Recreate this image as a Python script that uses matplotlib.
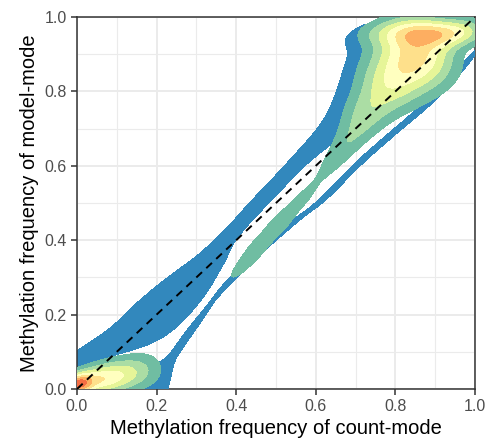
import numpy as np
import matplotlib as mpl

mpl.use('Agg')
import matplotlib.pyplot as plt
from matplotlib.ticker import MultipleLocator

# density bands, low -> high (reversed Spectral)
band_colors = ["#3288BD", "#70BDA2", "#ABDDA4", "#E6F598", "#FFFFBF",
               "#FEE08B", "#FDAE61", "#F46D43", "#D53E4F", "#9E0142"]
band_levels = [1, 2, 3, 4, 5, 6, 7, 8, 9, 10, 1000]

# outer (lowest) band: upper-left streak along the diagonal, its run up the
# left side of the top-right cloud and the strip along the top
outline_x = [0.0, 0.05, 0.10, 0.15, 0.20, 0.25, 0.30, 0.35, 0.40, 0.45, 0.50, 0.55, 0.60,
             0.645, 0.677, 0.70, 0.717, 0.722, 0.79, 0.86, 0.93, 0.99]
outline_y = [0.08, 0.105, 0.13, 0.16, 0.197, 0.247, 0.30, 0.362, 0.432, 0.493, 0.548, 0.606, 0.658,
             0.705, 0.77, 0.84, 0.90, 0.945, 0.975, 0.985, 0.99, 0.995]
outline_wid = [0.014, 0.02, 0.027, 0.04, 0.048, 0.047, 0.04, 0.028, 0.016, 0.016, 0.016, 0.016, 0.019,
               0.025, 0.03, 0.03, 0.027, 0.021, 0.013, 0.012, 0.01, 0.01]
outline_ang = [27, 27, 27, 33, 40, 45, 49, 51, 48, 47, 49, 50, 52,
               60, 68, 75, 80, 10, 3, 3, 3, 3]

# thin lower streak below the diagonal
lower_x = [0.205, 0.12, 0.25, 0.31, 0.384, 0.46, 0.54, 0.63, 0.70, 0.78, 0.862, 0.93, 0.995]
lower_y = [0.03, 0.0, 0.10, 0.19, 0.29, 0.37, 0.445, 0.52, 0.60, 0.675, 0.75, 0.82, 0.90]
lower_w = [1.5, 1.3, 1.0, 1.0, 1.0, 1.0, 1.0, 1.0, 1.0, 1.0, 1.0, 1.0, 1.0]
lower_len = [0.035, 0.06, 0.06, 0.06, 0.06, 0.06, 0.06, 0.06, 0.06, 0.06, 0.06, 0.06, 0.06]
lower_wid = [0.03, 0.01, 0.014, 0.01, 0.009, 0.009, 0.009, 0.009, 0.009, 0.009, 0.009, 0.009, 0.008]
lower_ang = [70, 0, 56, 53, 48, 45, 43, 45, 45, 44, 44, 47, 50]

# middle streak (starts at the second band)
mid_x = [0.405, 0.45, 0.51, 0.57]
mid_y = [0.318, 0.377, 0.447, 0.515]
mid_w = [1.0, 1.1, 1.1, 1.0]
mid_wid = [0.015, 0.023, 0.026, 0.02]

# top-right cloud: tongue along the diagonal and ridge under the top edge
tongue_x = [0.635, 0.68, 0.725, 0.78, 0.83, 0.875]
tongue_y = [0.60, 0.665, 0.74, 0.815, 0.875, 0.915]
tongue_w = [1.0, 1.3, 2.0, 2.7, 3.1, 3.0]
tongue_wid = [0.02, 0.028, 0.04, 0.055, 0.066, 0.066]
ridge_x = [0.74, 0.80, 0.86, 0.92, 0.98]
ridge_y = [0.955, 0.96, 0.958, 0.956, 0.962]
ridge_w = [0.8, 1.4, 2.1, 2.8, 2.4]
ridge_wid = [0.022, 0.026, 0.026, 0.025, 0.025]

# bottom-left corner cloud
corner_x = [0.0, 0.03, 0.08, 0.13, 0.18]
corner_y = [0.012, 0.02, 0.03, 0.042, 0.055]
corner_w = [5.0, 3.0, 2.6, 1.9, 1.0]
corner_len = [0.025, 0.04, 0.04, 0.04, 0.04]
corner_wid = [0.018, 0.025, 0.03, 0.032, 0.04]
corner_ang = [20, 12, 12, 12, 12]

gx, gy = np.meshgrid(np.linspace(-0.02, 1.02, 521), np.linspace(-0.02, 1.02, 521))


def density(xs, ys, ws, lens, wids, angs):
    f = np.zeros_like(gx)
    for x0, y0, w, a, c, t in zip(xs, ys, ws, lens, wids, angs):
        t = np.deg2rad(t)
        dx, dy = gx - x0, gy - y0
        u = dx * np.cos(t) + dy * np.sin(t)
        v = -dx * np.sin(t) + dy * np.cos(t)
        f += w * np.exp(-0.5 * ((u / a) ** 2 + (v / c) ** 2))
    return f


def same(v, n):
    return [v] * n


fig = plt.figure(figsize=(4.88, 4.48), dpi=100)
ax = fig.add_axes([77 / 488, 59 / 448, 398 / 488, 372 / 448])

n = len(outline_x)
outline = density(outline_x, outline_y, same(1.3, n), same(0.045, n), outline_wid, outline_ang)
lower = density(lower_x, lower_y, lower_w, lower_len, lower_wid, lower_ang)
core = (density(mid_x, mid_y, mid_w, same(0.045, 4), mid_wid, same(48, 4))
        + density(tongue_x, tongue_y, tongue_w, same(0.05, 6), tongue_wid, same(50, 6))
        + density(ridge_x, ridge_y, ridge_w, same(0.04, 5), ridge_wid, same(2, 5))
        + density(corner_x, corner_y, corner_w, corner_len, corner_wid, corner_ang))

ax.contourf(gx, gy, outline, levels=[1, 1000], colors=band_colors[:1], zorder=2)
ax.contourf(gx, gy, lower, levels=[1, 1000], colors=band_colors[:1], zorder=3)
ax.contourf(gx, gy, core, levels=band_levels[:10], colors=band_colors[1:10], zorder=4)

ax.plot([0, 1], [0, 1], color="black", lw=1.4, ls=(0, (4, 3)), zorder=10)

ax.set_xlim(0, 1)
ax.set_ylim(0, 1)
ax.xaxis.set_major_locator(MultipleLocator(0.2))
ax.yaxis.set_major_locator(MultipleLocator(0.2))
ax.xaxis.set_minor_locator(MultipleLocator(0.1))
ax.yaxis.set_minor_locator(MultipleLocator(0.1))
ax.grid(which="major", color="#EBEBEB", lw=1.4, zorder=0)
ax.grid(which="minor", color="#EBEBEB", lw=0.8, zorder=0)
ax.set_axisbelow(True)
ax.tick_params(which="minor", length=0)
ax.tick_params(which="major", length=4.5, width=1.1, color="#333333", labelcolor="#4D4D4D",
               labelsize=11.5, pad=3)
for s in ax.spines.values():
    s.set_color("#333333")
    s.set_linewidth(1.1)
ax.set_xticks([0, 0.2, 0.4, 0.6, 0.8, 1.0])
ax.set_yticks([0, 0.2, 0.4, 0.6, 0.8, 1.0])
ax.set_xticklabels(["0.0", "0.2", "0.4", "0.6", "0.8", "1.0"], fontfamily="Liberation Sans")
ax.set_yticklabels(["0.0", "0.2", "0.4", "0.6", "0.8", "1.0"], fontfamily="Liberation Sans")
ax.set_xlabel("Methylation frequency of count-mode", fontsize=14.5,
              fontfamily="Liberation Sans", labelpad=3)
ax.set_ylabel("Methylation frequency of model-mode", fontsize=14.5,
              fontfamily="Liberation Sans", labelpad=4)

fig.savefig("out.png", dpi=100)
